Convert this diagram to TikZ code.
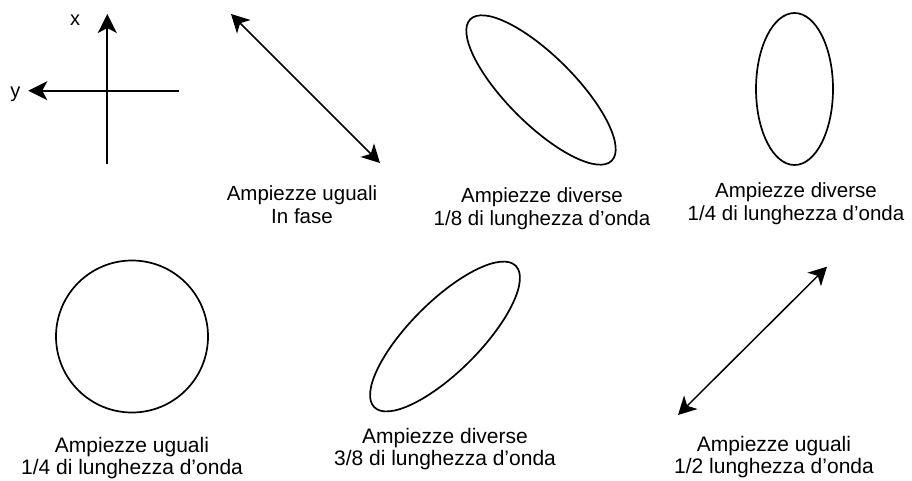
\documentclass[tikz,border=0pt]{standalone}
\usepackage{fontspec}
\setmainfont{Liberation Sans}
\usetikzlibrary{arrows.meta}
\begin{document}
\begin{tikzpicture}[x=1pt,y=-1pt,
  lbl/.style={align=center, anchor=base, inner sep=0pt, font=\fontsize{20.5}{23}\selectfont},
  lblb/.style={align=center, anchor=base, inner sep=0pt, font=\fontsize{21}{22.5}\selectfont},
  axlbl/.style={anchor=base, inner sep=0pt, font=\fontsize{20}{22.5}\selectfont},
  axis/.style={line width=2pt, -{Stealth[length=19pt,width=19pt,inset=5pt]}},
  dbl/.style={line width=1.5pt, {Stealth[length=18pt,width=19pt,inset=5pt]}-{Stealth[length=18pt,width=19pt,inset=5pt]}},
  curve/.style={line width=1.7pt}]
\useasboundingbox (0,0) rectangle (912,480);
% axes
\coordinate (o) at (107.3,90.7);
\coordinate (xtop) at (107.3,14);
\coordinate (xbot) at (107.3,164.3);
\coordinate (yleft) at (28.3,90.7);
\coordinate (yright) at (179,90.7);
\draw[line width=2pt] (xbot) -- (o);
\draw[axis] (o) -- (xtop);
\draw[line width=2pt] (yright) -- (o);
\draw[axis] (o) -- (yleft);
\node[axlbl] (xl) at (75,25) {x};
\node[axlbl] (yl) at (15.3,97.7) {y};
% in phase, equal amplitudes
\coordinate (a1) at (231,14);
\coordinate (a2) at (380,163);
\draw[dbl] (a1) -- (a2);
\node[lbl] (l1) at (302,223.5) {Ampiezze uguali\\In fase};
% 1/8
\coordinate (e1) at (541,90);
\draw[curve, rotate around={-45:(e1)}] (e1) ellipse [x radius=100, y radius=34];
\node[lbl] (l2) at (542,225) {Ampiezze diverse\\1/8 di lunghezza d’onda};
% 1/4 different
\coordinate (e2) at (794.5,89);
\draw[curve] (e2) ellipse [x radius=38.5, y radius=76];
\node[lbl] (l3) at (796,220.5) {Ampiezze diverse\\1/4 di lunghezza d’onda};
% circle
\coordinate (e3) at (132,336.5);
\draw[curve] (e3) circle [radius=76];
\node[lblb] (l4) at (132,474.5) {Ampiezze uguali\\1/4 di lunghezza d’onda};
% 3/8
\coordinate (e4) at (445,336.5);
\draw[curve, rotate around={45:(e4)}] (e4) ellipse [x radius=100, y radius=35];
\node[lblb] (l5) at (445,465.5) {Ampiezze diverse\\3/8 di lunghezza d’onda};
% 1/2
\coordinate (b1) at (678,415);
\coordinate (b2) at (827,266.7);
\draw[dbl] (b1) -- (b2);
\node[lblb] (l6) at (774,473.5) {Ampiezze uguali\\1/2 lunghezza d’onda};
\end{tikzpicture}
\end{document}
